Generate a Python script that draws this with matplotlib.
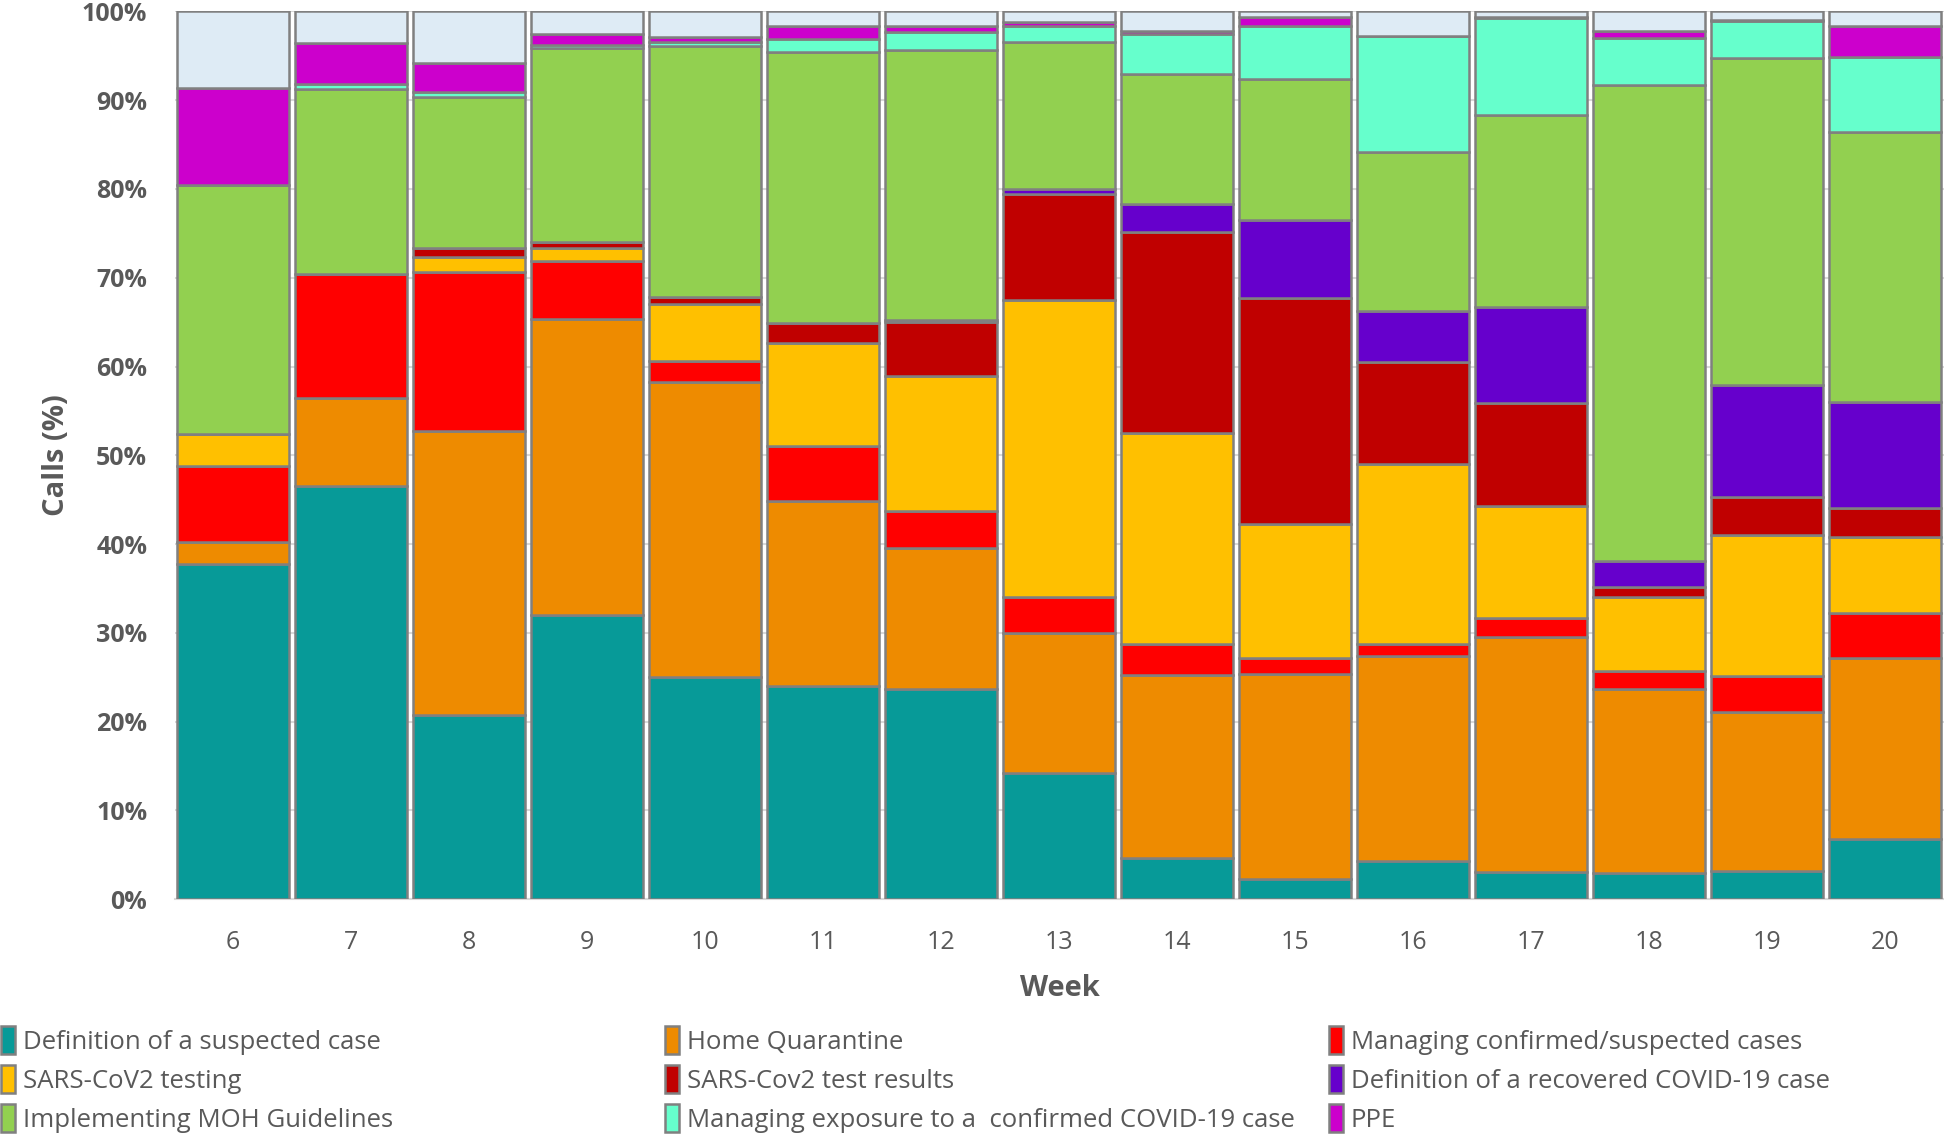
import matplotlib
matplotlib.use("Agg")
import matplotlib.pyplot as plt
from matplotlib import font_manager
import numpy as np

weeks = [6, 7, 8, 9, 10, 11, 12, 13, 14, 15, 16, 17, 18, 19, 20]

categories = [
    "Definition of a suspected case",
    "Home Quarantine",
    "Managing confirmed/suspected cases",
    "SARS-CoV2 testing",
    "SARS-Cov2 test results",
    "Definition of a recovered COVID-19 case",
    "Implementing MOH Guidelines",
    "Managing exposure to a  confirmed COVID-19 case",
    "PPE",
    "Other",
]

suspected_case = [37.8, 46.5, 20.8, 32.0, 25.0, 24.0, 23.7, 14.2, 4.7, 2.3, 4.3, 3.1, 3.0, 3.2, 6.8]
home_quarantine = [2.4, 9.9, 31.9, 33.4, 33.3, 20.8, 15.9, 15.8, 20.6, 23.1, 23.1, 26.4, 20.7, 17.9, 20.4]
managing_cases = [8.6, 14.0, 18.0, 6.5, 2.3, 6.2, 4.1, 4.0, 3.4, 1.8, 1.3, 2.2, 2.0, 4.1, 5.0]
testing = [3.6, 0.0, 1.6, 1.4, 6.4, 11.7, 15.2, 33.5, 23.8, 15.1, 20.3, 12.6, 8.3, 15.8, 8.6]
test_results = [0.0, 0.0, 1.1, 0.7, 0.8, 2.2, 6.1, 11.9, 22.6, 25.4, 11.5, 11.6, 1.2, 4.3, 3.3]
recovered_case = [0.0, 0.0, 0.0, 0.0, 0.0, 0.0, 0.2, 0.6, 3.2, 8.8, 5.7, 10.8, 2.9, 12.6, 11.9]
moh_guidelines = [28.1, 20.8, 17.0, 21.9, 28.3, 30.5, 30.5, 16.6, 14.6, 15.9, 18.0, 21.6, 53.6, 36.9, 30.4]
exposure = [0.0, 0.6, 0.5, 0.3, 0.5, 1.5, 2.0, 1.8, 4.6, 6.0, 13.0, 10.9, 5.3, 4.1, 8.5]
ppe = [10.9, 4.6, 3.3, 1.2, 0.5, 1.4, 0.6, 0.4, 0.3, 1.0, 0.0, 0.2, 0.8, 0.1, 3.4]
other = [8.6, 3.6, 5.8, 2.6, 2.9, 1.7, 1.7, 1.2, 2.2, 0.6, 2.8, 0.6, 2.2, 1.0, 1.7]

series = [suspected_case, home_quarantine, managing_cases, testing, test_results,
          recovered_case, moh_guidelines, exposure, ppe, other]
colors = ["#079A98", "#EE8B00", "#FF0000", "#FFC000", "#C00000",
          "#6600CC", "#92D050", "#66FFCC", "#CC00CC", "#DEEBF5"]

def pick_font(cands):
    for c in cands:
        try:
            font_manager.findfont(c, fallback_to_default=False)
            return c
        except Exception:
            pass
    return "DejaVu Sans"

main_font = pick_font(["Open Sans", "Lato", "DejaVu Sans"])
legend_font = pick_font(["Liberation Sans Narrow", "Open Sans", "DejaVu Sans"])
plt.rcParams["font.family"] = [main_font, "DejaVu Sans"]

grey = "#595959"
fig = plt.figure(figsize=(19.44, 11.36), dpi=100)
ax = fig.add_axes([0.090, 0.2084, 0.910, 0.7816])

x = np.array(weeks, dtype=float)
bottom = np.zeros(len(weeks))
handles = []
for name, vals, col in zip(categories, series, colors):
    v = np.array(vals, dtype=float)
    h = ax.bar(x, v, width=0.95, bottom=bottom, color=col, edgecolor="#808080",
               linewidth=1.8, label=name, zorder=3)
    handles.append(h)
    bottom += v

ax.set_xlim(5.51, 20.5)
ax.set_ylim(0, 100)
ax.set_yticks(np.arange(0, 101, 10))
ax.set_yticklabels([f"{t}%" for t in range(0, 101, 10)], fontsize=18,
                   fontweight="bold", color=grey)
ax.set_xticks(x)
ax.set_xticklabels([str(w) for w in weeks], fontsize=18, color=grey)
ax.tick_params(axis="y", length=0, pad=20)
ax.tick_params(axis="x", length=0, pad=22)
ax.yaxis.grid(True, color="#D9D9D9", linewidth=1.5, zorder=0)
ax.set_axisbelow(True)
for s in ["left", "right", "top"]:
    ax.spines[s].set_visible(False)
ax.spines["bottom"].set_color("#D9D9D9")
ax.spines["bottom"].set_linewidth(1.5)

ax.set_xlabel("Week", fontsize=21, fontweight="bold", color=grey, labelpad=14)
ax.set_ylabel("Calls (%)", fontsize=21, fontweight="bold", color=grey, labelpad=8)

cols = [[0, 3, 6], [1, 4, 7], [2, 5, 8]]
xpos = [0.0005, 0.342, 0.6835]
for xp, idx in zip(xpos, cols):
    leg = fig.legend([handles[i] for i in idx], [categories[i] for i in idx],
                     loc="upper left", bbox_to_anchor=(xp, 0.0965), frameon=False,
                     ncol=1, handlelength=0.55, handleheight=1.3, handletextpad=0.3,
                     labelspacing=0.40, borderaxespad=0, borderpad=0,
                     prop={"family": legend_font, "size": 18.5})
    for t in leg.get_texts():
        t.set_color(grey)

fig.savefig("out.png", dpi=100)
